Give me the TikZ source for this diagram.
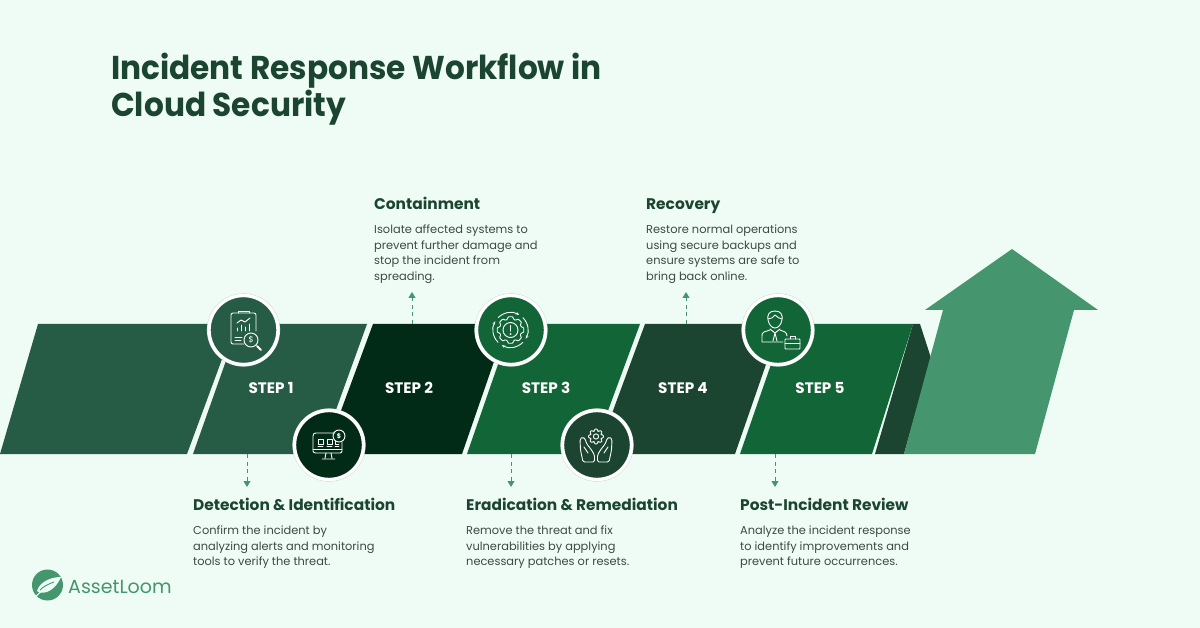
\documentclass[tikz,border=0pt]{standalone}
\usepackage{fontspec}
\setmainfont{Poppins}
\newfontfamily\headfont{Poppins SemiBold}
\newfontfamily\titlefont[FakeStretch=0.945]{Poppins}
\usetikzlibrary{arrows.meta,calc}
\definecolor{bgc}{HTML}{EEFCF5}
\definecolor{gA}{HTML}{265B46}
\definecolor{gB}{HTML}{012B17}
\definecolor{gC}{HTML}{116536}
\definecolor{gD}{HTML}{1B4530}
\definecolor{gE}{HTML}{45966E}
\definecolor{txt}{HTML}{3A4A42}
\definecolor{rim}{HTML}{C4D6CC}
\tikzset{
 badge/.style={circle,draw=white,line width=3.4pt,minimum size=69pt,inner sep=0pt,
   preaction={draw=rim,line width=4.2pt}},
 steplabel/.style={text=white,font=\bfseries\fontsize{15.2}{16}\selectfont,inner sep=0pt},
 headtext/.style={anchor=base west,text=gD,font=\bfseries\fontsize{15.4}{18}\selectfont,inner sep=0pt},
 bodytext/.style={anchor=north west,align=left,text=txt,font=\fontsize{11.4}{15.5}\selectfont,inner sep=0pt},
 titletext/.style={anchor=base west,text=gD,font=\titlefont\bfseries\fontsize{33}{38}\selectfont,inner sep=0pt},
 flowline/.style={draw=gE,line width=1pt,dash pattern=on 4pt off 3.5pt,-{Triangle[length=6pt,width=7pt]}},
 icon/.style={draw=white,line width=0.9pt,line join=round,line cap=round,fill=none},
}
% gear outline: centre x, centre y, inner radius, outer radius, teeth
\newcommand{\geardraw}[5]{%
 \pgfmathsetmacro{\gstep}{360/#5}
 \pgfmathsetmacro{\gq}{\gstep/4}
 \draw[icon,rounded corners=0.8pt] ($(#1,#2)+(-\gq*1.5:#3)$)
  \foreach \gi in {1,...,#5} {
   -- ($(#1,#2)+({\gi*\gstep-\gstep-\gq*0.9}:#4)$)
   -- ($(#1,#2)+({\gi*\gstep-\gstep+\gq*0.9}:#4)$)
   -- ($(#1,#2)+({\gi*\gstep-\gstep+\gq*1.5}:#3)$)
   -- ($(#1,#2)+({\gi*\gstep-\gq*1.5}:#3)$)
  } -- cycle;}
\begin{document}
\begin{tikzpicture}[x=1pt,y=-1pt]
\useasboundingbox[fill=bgc] (0,0) rectangle (1200,628);
% bands
\fill[gA] (38,324) -- (235,324) -- (187,454) -- (0,454) -- cycle;
\fill[gA] (239,324) -- (367,324) -- (320,454) -- (193,454) -- cycle;
\fill[gB] (373,324) -- (507,324) -- (462,454) -- (325,454) -- cycle;
\fill[gC] (512,324) -- (640,324) -- (592,454) -- (467,454) -- cycle;
\fill[gD] (645,324) -- (780,324) -- (735,454) -- (597,454) -- cycle;
\fill[gC] (785,324) -- (913,324) -- (872,454) -- (740,454) -- cycle;
\fill[gD] (913,324) -- (920,324) -- (931,358) -- (904,454) -- (875,454) -- cycle;
\fill[gE] (1012,249) -- (1098,310) -- (1074,310) -- (1035,454) -- (904,454) -- (943,310) -- (925,310) -- cycle;
% title
\node[titletext] (t1) at (111,80) {Incident Response Workflow in};
\node[titletext] (t2) at (111,117) {Cloud Security};
% step labels
\node[steplabel] (s1) at (271,388) {STEP 1};
\node[steplabel] (s2) at (409,388) {STEP 2};
\node[steplabel] (s3) at (546,388) {STEP 3};
\node[steplabel] (s4) at (683,388) {STEP 4};
\node[steplabel] (s5) at (820,388) {STEP 5};
% badges
\node[badge,fill=gA] (b1) at (243.5,330) {};
\node[badge,fill=gB] (b2) at (329,445) {};
\node[badge,fill=gC] (b3) at (511,330) {};
\node[badge,fill=gD] (b4) at (597,445) {};
\node[badge,fill=gC] (b5) at (778,330) {};
% icon 1
\draw[icon] (256,331) -- (256,315) .. controls (256,314) and (255,313) .. (254,313) -- (233,313) .. controls (232,313) and (231,314) .. (231,315) -- (231,342) .. controls (231,343) and (232,344) .. (233,344) -- (244,344);
\draw[icon] (238,313) -- (238,311) -- (249,311) -- (249,313);
\draw[icon] (237,323) -- (241,320) -- (245,322) -- (250,318);
\draw[icon] (237,331) -- (237,328) (241,331) -- (241,325) (245,331) -- (245,327) (249,331) -- (249,324);
\draw[icon] (235,337) -- (242,337) (235,340) -- (241,340);
\draw[icon] (251,340) circle (7);
\draw[icon,line width=2pt] (257,346) -- (261,350);
\node[text=white,font=\fontsize{8}{8}\selectfont,inner sep=0pt] (d1) at (251,340) {\$};
% icon 2
\draw[icon] (335,433) -- (316,433) .. controls (314,433) and (313,434) .. (313,436) -- (313,451) .. controls (313,452) and (314,453) .. (316,453) -- (340,453) .. controls (341,453) and (342,452) .. (342,451) -- (342,442);
\draw[icon] (313,449) -- (342,449);
\draw[icon] (326,453) -- (325,458) (331,453) -- (332,458) (322,459) -- (335,459);
\draw[icon] (318,439) rectangle (323,444) (327,439) rectangle (332,444) (335,441) -- (335,444) -- (339,444);
\draw[icon] (318,446.5) -- (323,446.5) (327,446.5) -- (332,446.5) (335,446.5) -- (339,446.5);
\draw[icon] (339,436) circle (6);
\node[text=white,font=\bfseries\fontsize{6.5}{6.5}\selectfont,inner sep=0pt] (d2) at (339,436) {\$};
% icon 3
\geardraw{510.5}{330}{11}{13.5}{8}
\draw[icon] (510.5,330) circle (7.5);
\draw[icon,line width=1.4pt] (510.5,325.5) -- (510.5,331);
\fill[white] (510.5,334) circle (1);
\draw[icon,-{Stealth[length=3.5pt]}] (510.5,330) ++(-135:17.5) arc[start angle=-135,end angle=-60,radius=17.5];
\draw[icon,-{Stealth[length=3.5pt]}] (510.5,330) ++(-45:17.5) arc[start angle=-45,end angle=30,radius=17.5];
\draw[icon,-{Stealth[length=3.5pt]}] (510.5,330) ++(45:17.5) arc[start angle=45,end angle=120,radius=17.5];
\draw[icon,-{Stealth[length=3.5pt]}] (510.5,330) ++(135:17.5) arc[start angle=135,end angle=210,radius=17.5];
% icon 4
\geardraw{596}{436.5}{5.6}{7.6}{8}
\draw[icon] (596,436.5) circle (2.6);
\draw[icon,rounded corners=1.5pt] (582.5,437) -- (580,439) -- (580.5,450) -- (583,462) -- (594.5,462) -- (594.5,455) -- (591.5,450) -- (586.5,443.5) -- (585,438.5) -- cycle;
\draw[icon] (584,447) -- (588,453);
\draw[icon,rounded corners=1.5pt] (609.5,437) -- (612,439) -- (611.5,450) -- (609,462) -- (597.5,462) -- (597.5,455) -- (600.5,450) -- (605.5,443.5) -- (607,438.5) -- cycle;
\draw[icon] (608,447) -- (604,453);
% icon 5
\draw[icon] (775,311) .. controls (769,311) and (767,315) .. (768,320) .. controls (769,325) and (772,328) .. (775,328) .. controls (778,328) and (781,325) .. (782,320) .. controls (783,315) and (781,311) .. (775,311) -- cycle;
\draw[icon] (768,319) .. controls (771,319) and (774,317) .. (775,315) .. controls (777,317) and (780,319) .. (782,319);
\draw[icon] (770,330) -- (764,332) .. controls (762,333) and (762,334) .. (762,336) -- (762,342) -- (783,342);
\draw[icon] (780,330) -- (785,332) .. controls (786,333) and (787,334) .. (787,336);
\draw[icon] (770,329) -- (775,333) -- (780,329) (775,333) -- (773,341) (775,333) -- (777,341);
\draw[icon,rounded corners=0.8pt] (785,339) rectangle (800,349);
\draw[icon] (790,339) -- (790,336.5) -- (795,336.5) -- (795,339) (785,343) -- (800,343);
% connectors
\coordinate (a1s) at (247,454); \coordinate (a1e) at (247,487);
\coordinate (a2s) at (412,324); \coordinate (a2e) at (412,292);
\coordinate (a3s) at (511,454); \coordinate (a3e) at (511,487);
\coordinate (a4s) at (686,324); \coordinate (a4e) at (686,292);
\coordinate (a5s) at (775,454); \coordinate (a5e) at (775,487);
\foreach \n in {1,...,5} {\draw[flowline] (a\n s) -- (a\n e);}
% texts
\node[headtext] (h1) at (193,510) {Detection \& Identification};
\node[bodytext] (p1) at (193,526) {Confirm the incident by\\analyzing alerts and monitoring\\tools to verify the threat.};
\node[headtext] (h2) at (374,209.5) {Containment};
\node[bodytext] (p2) at (374,225) {Isolate affected systems to\\prevent further damage and\\stop the incident from\\spreading.};
\node[headtext] (h3) at (466,510) {Eradication \& Remediation};
\node[bodytext] (p3) at (466,526) {Remove the threat and fix\\vulnerabilities by applying\\necessary patches or resets.};
\node[headtext] (h4) at (646,209.5) {Recovery};
\node[bodytext] (p4) at (646,225) {Restore normal operations\\using secure backups and\\ensure systems are safe to\\bring back online.};
\node[headtext] (h5) at (740,510) {Post-Incident Review};
\node[bodytext] (p5) at (740,526) {Analyze the incident response\\to identify improvements and\\prevent future occurrences.};
% logo
\fill[gE] (47.5,585) circle (15.5);
\fill[bgc] (61,577) .. controls (52,577) and (40,581) .. (37,591) .. controls (40,594) and (53,595) .. (61,577) -- cycle;
\draw[gE,line width=0.9pt] (54,582) .. controls (48,584) and (43,587) .. (40,590);
\draw[bgc,line width=1.1pt] (45,589) .. controls (41,591) and (37,595) .. (34,599);
\node[anchor=base west,text=gE,font=\fontsize{19}{20}\selectfont,inner sep=0pt] (logo) at (68,593) {AssetLoom};
\end{tikzpicture}
\end{document}
